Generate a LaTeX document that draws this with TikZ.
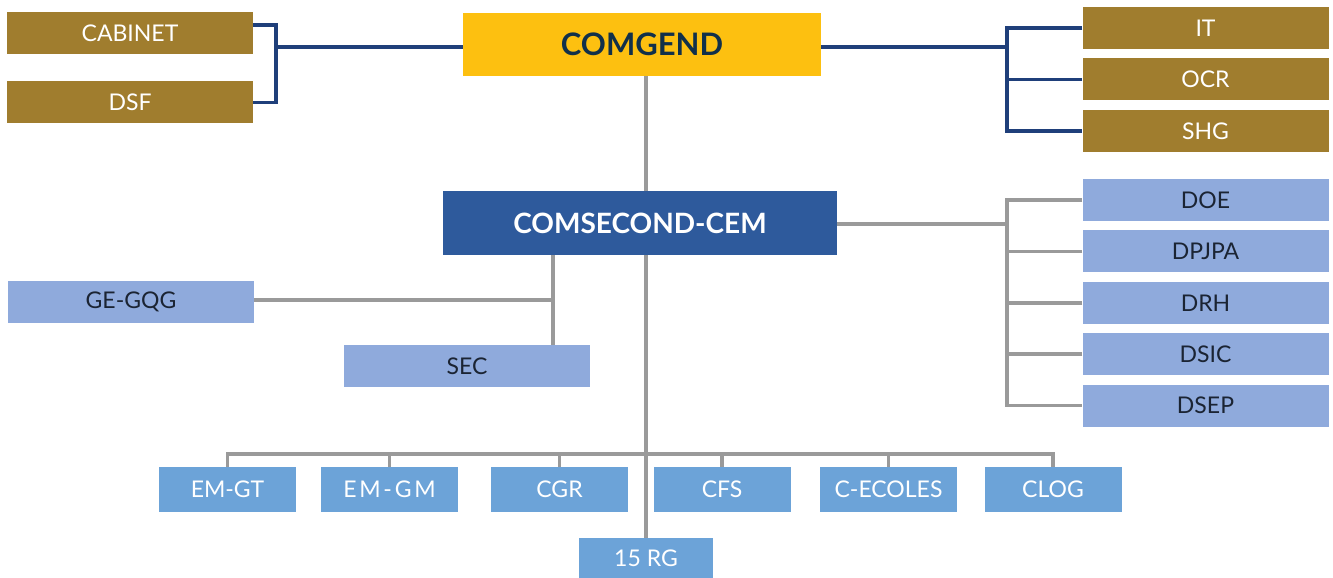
\documentclass[tikz,border=0pt]{standalone}
\usepackage{fontspec}
\setmainfont{Lato}
\usetikzlibrary{positioning}
\definecolor{gold}{HTML}{A07D2E}
\definecolor{amber}{HTML}{FDC010}
\definecolor{ink}{HTML}{11304A}
\definecolor{royal}{HTML}{2E5A9C}
\definecolor{pale}{HTML}{8FAADC}
\definecolor{sky}{HTML}{6CA3D8}
\definecolor{navy}{HTML}{1F3F7A}
\definecolor{wire}{HTML}{9A9A9A}
\definecolor{dark}{HTML}{1B2433}

\begin{document}
\begin{tikzpicture}[x=1pt,y=-1pt,
		box/.style={rectangle,inner sep=0pt,font=\fontsize{23}{26}\selectfont},
		goldbox/.style={box,fill=gold,text=white,minimum width=246pt,minimum height=42pt},
		palebox/.style={box,fill=pale,text=dark,minimum width=246pt,minimum height=42pt},
		skybox/.style={box,fill=sky,text=white,minimum width=137pt,minimum height=45pt},
		navyline/.style={draw=navy,line width=3.5pt},
		greyline/.style={draw=wire,line width=3.5pt}]
	\useasboundingbox (0,0) rectangle (1333,578);
	% top level
	\node[box,fill=amber,text=ink,minimum width=358pt,minimum height=63pt,
		font=\fontsize{31}{34}\selectfont\bfseries] (comgend) at (642,44.5) {COMGEND};
	\node[goldbox] (cabinet) at (130,33) {CABINET};
	\node[goldbox,below=27pt of cabinet] (dsf) {DSF};
	\node[goldbox] (it) at (1205.5,28) {IT};
	\node[goldbox,below=9pt of it] (ocr) {OCR};
	\node[goldbox,below=9pt of ocr] (shg) {SHG};
	% second level
	\node[box,fill=royal,text=white,minimum width=394pt,minimum height=64pt,
		font=\fontsize{28}{31}\selectfont\bfseries] (comsecond) at (640,223) {COMSECOND-CEM};
	\node[palebox] (doe) at (1205.5,200) {DOE};
	\node[palebox,below=9pt of doe] (dpjpa) {DPJPA};
	\node[palebox,below=9pt of dpjpa] (drh) {DRH};
	\node[palebox,below=9pt of drh] (dsic) {DSIC};
	\node[palebox,below=9pt of dsic] (dsep) {DSEP};
	\node[palebox] (gegqg) at (131,301.5) {GE-GQG};
	\node[palebox] (sec) at (467,366) {SEC};
	% units
	\node[skybox] (emgt) at (227.5,489.5) {EM-GT};
	\node[skybox] (emgm) at (389.5,489.5) {\addfontfeature{LetterSpace=12}EM-GM};
	\node[skybox] (cgr) at (559.5,489.5) {CGR};
	\node[skybox] (cfs) at (722,489.5) {CFS};
	\node[skybox] (cecoles) at (888.5,489.5) {C-ECOLES};
	\node[skybox] (clog) at (1053,489.5) {CLOG};
	\node[skybox,minimum width=134pt,minimum height=40pt] (rg15) at (646,558) {15 RG};
	% junctions
	\coordinate (lfork) at (276,47);
	\coordinate (rfork) at (1007,47);
	\coordinate (sfork) at (1007,224);
	\coordinate (spine) at (646,0);
	\coordinate (secdrop) at (553,300);
	\coordinate (bus) at (646,454);
	% navy links
	\draw[navyline] ([yshift=8pt]cabinet.east) -| (lfork |- dsf.east) -- (dsf.east);
	\draw[navyline] (lfork) -- (lfork -| comgend.west);
	\draw[navyline] (comgend.east |- rfork) -- (rfork);
	\draw[navyline] (it.west) -| (rfork |- shg.west) -- (shg.west);
	\draw[navyline] (ocr.west) -- (ocr.west -| rfork);
	% grey links
	\draw[greyline] (comgend.south -| spine) -- (comsecond.north -| spine);
	\draw[greyline] (comsecond.south -| spine) -- (rg15.north);
	\draw[greyline] (comsecond.east |- sfork) -- (sfork);
	\draw[greyline] (doe.west) -| (sfork |- dsep.west) -- (dsep.west);
	\foreach \n in {dpjpa,drh,dsic}
		\draw[greyline] (\n.west) -- (\n.west -| sfork);
	\draw[greyline] (comsecond.south -| secdrop) -- (sec.north -| secdrop);
	\draw[greyline] (gegqg.east |- secdrop) -- (secdrop);
	\draw[greyline] (emgt.north) |- (bus) -| (clog.north);
	\foreach \n in {emgm,cgr,cfs,cecoles}
		\draw[greyline] (\n.north) -- (\n.north |- bus);
\end{tikzpicture}
\end{document}
